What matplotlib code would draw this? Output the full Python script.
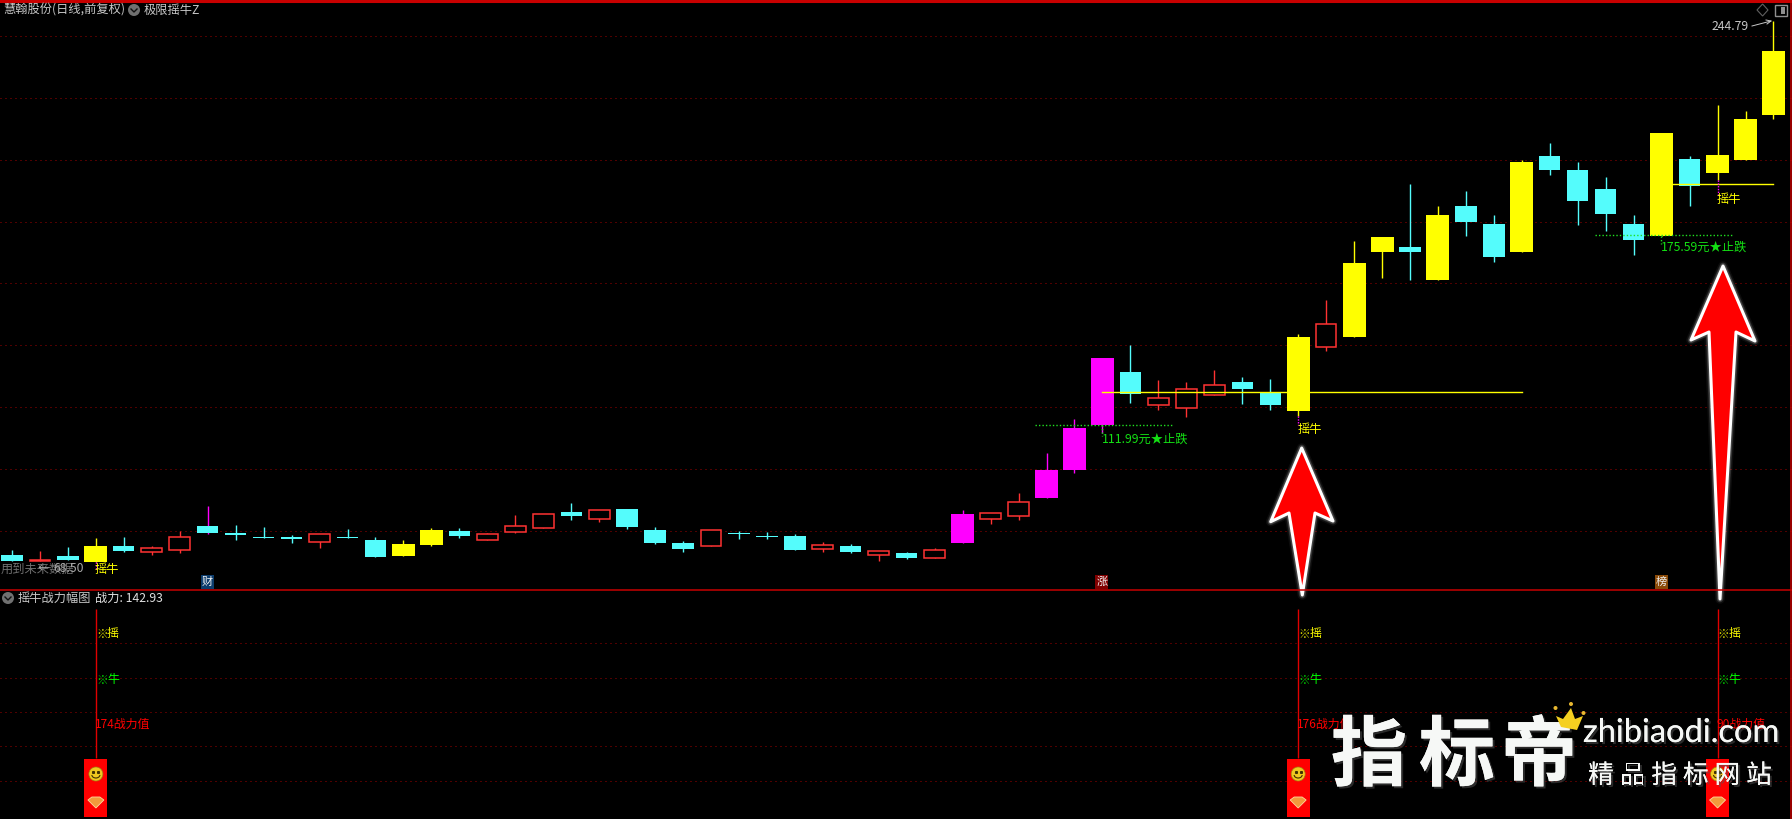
import matplotlib
matplotlib.use('Agg')
import matplotlib.pyplot as plt
import matplotlib.patheffects as pe
from matplotlib.patches import Polygon, Circle, Arc, Rectangle

plt.rcParams['font.family'] = ['Noto Sans CJK SC', 'DejaVu Sans']

# Свечи: r - красная пустая, c - голубая, y - жёлтая, m - малиновая
kinds = list('crcycrr' 'cccc' 'r' 'cc' 'yy' 'c' 'rrr' 'c' 'r' 'ccc' 'r' 'ccc' 'r' 'crcr' 'm' 'rr' 'mmm' 'c' 'rrr' 'cc' 'y' 'r' 'yy' 'c' 'y' 'cc' 'y' 'cccc' 'y' 'c' 'yyy')
body_top = [70.09, 68.44, 69.76, 73.06, 73.06, 72.29, 75.92, 79.66, 77.35, 76.03, 76.03, 76.91, 76.03, 75.04, 73.72, 78.34,
            78.01, 76.91, 79.55, 83.51, 84.28, 84.83, 85.27, 78.34, 74.05, 78.23, 77.35, 76.36, 76.36, 73.28, 73.06, 71.30,
            70.75, 71.63, 83.62, 83.84, 87.47, 98.3, 112.0, 135.1, 130.48, 121.79, 124.76, 126.08, 127.18, 123.55, 142.03, 146.21,
            166.45, 175.03, 171.73, 182.29, 185.26, 179.32, 199.78, 201.76, 197.14, 190.87, 179.32, 209.35, 200.77, 202.09, 213.97, 236.41]
body_bot = [68.11, 68.11, 68.44, 67.89, 71.41, 71.19, 71.85, 77.35, 76.69, 75.70, 75.37, 74.49, 75.70, 69.43, 69.76, 73.39,
            76.36, 75.15, 77.79, 79.11, 82.96, 82.08, 79.33, 74.05, 72.07, 73.17, 77.02, 76.03, 71.74, 72.18, 71.08, 70.20,
            69.10, 69.21, 74.05, 82.08, 83.07, 89.0, 98.05, 113.0, 123.33, 119.70, 118.71, 123.00, 124.87, 119.59, 117.61, 138.84,
            142.0, 170.08, 170.08, 160.9, 179.98, 168.43, 170.08, 197.14, 186.91, 182.62, 174.04, 175.36, 191.86, 196.15, 200.44, 215.29]
highs = [71.74, 71.41, 72.62, 75.59, 76.03, 73.06, 78.01, 86.26, 79.99, 79.33, 76.69, 76.91, 78.67, 76.03, 75.04, 79.00,
         79.00, 77.35, 83.29, 83.51, 87.25, 84.83, 85.27, 79.33, 74.71, 78.23, 78.01, 77.68, 77.02, 74.38, 73.72, 71.30,
         71.08, 72.29, 84.94, 83.84, 90.55, 103.9, 114.97, 135.1, 139.39, 127.84, 127.18, 131.14, 128.83, 128.17, 143.02, 154.1,
         173.71, 175.03, 192.52, 185.26, 190.21, 182.29, 200.44, 206.05, 199.78, 194.83, 182.29, 209.35, 201.76, 218.59, 216.61, 246.31]
lows = [68.11, 68.11, 68.44, 67.89, 71.08, 70.09, 70.75, 77.02, 75.04, 75.70, 74.05, 72.40, 75.70, 69.43, 69.76, 73.06,
        75.70, 75.15, 77.35, 79.11, 81.64, 80.98, 78.67, 73.72, 71.08, 73.17, 75.37, 75.37, 71.74, 71.08, 70.75, 68.11,
        68.77, 69.21, 74.05, 80.32, 81.64, 88.9, 97.2, 110.24, 120.25, 117.94, 115.63, 123.00, 119.92, 117.94, 115.96, 137.41,
        142.0, 161.6, 160.9, 160.9, 175.36, 166.78, 170.08, 195.49, 178.99, 177.01, 169.09, 175.36, 185.26, 193.84, 200.44, 213.97]

grid_prices = [241.2, 220.8, 200.4, 180.1, 159.7, 139.4, 118.9, 98.6, 78.0]
support_lines = [(36.6, 41.5, 112.9), (56.6, 61.5, 175.6)]
signal_idx = [3, 46, 61]
signal_power = ['174', '176', '90']
hold_lines = [(39, 54, 123.8), (59, 63, 192.4)]

# Нижняя панель
power_grid = [175.7, 140.7, 106.7, 72.7, 37.7]

BG = '#000000'
RED = '#c80000'
colors = {'r': '#ff3232', 'c': '#54fcfc', 'y': '#ffff00', 'm': '#ff00ff'}
x0, step = 12, 27.96


def px(i):
    return x0 + i * step


fig = plt.figure(figsize=(17.92, 8.19), dpi=100, facecolor=BG)
# Верхняя панель: y = 0..589 пикселей
ax = fig.add_axes([0, 1 - 589 / 819, 1, 589 / 819], facecolor=BG)
ax.set_xlim(-x0 / step, (1792 - x0) / step)
ax.set_ylim(58.87, 253.24)
ax.axis('off')
# Нижняя панель
ax2 = fig.add_axes([0, 0, 1, 229 / 819], facecolor=BG)
ax2.set_xlim(ax.get_xlim())
ax2.set_ylim(0, 229)
ax2.axis('off')
# Слой для подписей в пикселях
ov = fig.add_axes([0, 0, 1, 1], facecolor='none', zorder=5)
ov.set_xlim(0, 1792)
ov.set_ylim(819, 0)
ov.axis('off')

# Сетка
dots = (0, (1, 4))
for g in grid_prices:
    ax.axhline(g, color='#a00000', lw=0.72, ls=dots, zorder=1)
for g in power_grid:
    ax2.axhline(g, color='#a00000', lw=0.72, ls=dots, zorder=1)

# Свечи
for i, k in enumerate(kinds):
    c = colors[k]
    wick = colors['m'] if i == 7 else c
    ax.vlines(i, lows[i], highs[i], color=wick, lw=1.0, zorder=2)
    h = body_top[i] - body_bot[i]
    if k == 'r':
        ax.bar(i, h, 0.74, bottom=body_bot[i], facecolor=BG, edgecolor=c, lw=1.1, zorder=3)
    elif k == 'c':
        ax.bar(i, h, 0.76, bottom=body_bot[i], color=c, lw=0, zorder=3)
    elif k == 'm':
        ax.bar(i, h, 0.82, bottom=body_bot[i], color=c, lw=0, zorder=3)
    else:
        ax.bar(i, h, 0.82, bottom=body_bot[i], color=c, lw=0, zorder=5)

for a, b, p in hold_lines:
    ax.plot([a, b], [p, p], color='#ffff00', lw=1.0, zorder=4)
for a, b, p in support_lines:
    ax.plot([a, b], [p, p], color='#20e020', lw=1.0, ls=(0, (1, 1.5)), zorder=6)

# Сигналы в нижней панели
for i, s in zip(signal_idx, signal_power):
    ax2.vlines(i, 61, 210, color='#e00000', lw=1.0, zorder=2)
    ax2.bar(i, 58, 0.82, bottom=2.5, color='#ff0000', lw=0, zorder=3)
    xp = px(i)
    ov.text(xp, 634, '※', color='#d8d800', fontsize=8.6, va='center', ha='left')
    ov.text(xp + 11, 634, '摇', color='#ffff00', fontsize=8.6, va='center', ha='left')
    ov.text(xp, 680, '※', color='#00d000', fontsize=8.6, va='center', ha='left')
    ov.text(xp + 11, 680, '牛', color='#00ff00', fontsize=8.6, va='center', ha='left')
    ov.text(xp - 1, 724, s + '战力值', color='#ff0000', fontsize=8.6, va='center', ha='left')
    # смайлик
    ov.add_patch(Circle((xp, 774), 7, fc='#f0c820', ec='#a08010', lw=0.5))
    ov.plot([xp - 2.5, xp + 2.5], [771.5, 771.5], ls='none', marker='s', ms=1.2, color='#403000')
    ov.add_patch(Arc((xp, 775), 8, 6, theta1=0, theta2=180, color='#403000', lw=0.8))
    # алмаз
    ov.add_patch(Polygon([(xp - 8, 800), (xp - 4, 797), (xp + 4, 797), (xp + 8, 800), (xp, 808)], fc='#f29a3c', ec='#ffd9a0', lw=0.6))

# Заголовки
GREY = '#c8c8c8'
ov.add_line(plt.Line2D([0, 1792], [1, 1], color=RED, lw=2.2))
ov.add_line(plt.Line2D([0, 1792], [589.5, 589.5], color=RED, lw=1.1))
ov.add_line(plt.Line2D([1790.5, 1790.5], [0, 819], color=RED, lw=1.1))
ov.text(3, 10, '慧翰股份(日线,前复权)', color=GREY, fontsize=8.8, va='center', ha='left')
ov.text(144, 10, '极限摇牛Z', color=GREY, fontsize=8.8, va='center', ha='left')
ov.text(18, 598, '摇牛战力幅图', color=GREY, fontsize=8.8, va='center', ha='left')
ov.text(95, 598, '战力: 142.93', color='#e0e0e0', fontsize=8.8, va='center', ha='left')
for cx, cy in [(134, 10), (8, 598)]:
    ov.add_patch(Circle((cx, cy), 6, fc='#707070', ec='none'))
    ov.plot([cx - 3, cx, cx + 3], [cy - 1, cy + 2, cy - 1], color='#101010', lw=1)

# Значки справа сверху
ov.add_patch(Polygon([(1762.6, 4), (1768, 10), (1762.6, 16), (1757, 10)], fc='none', ec='#606060', lw=0.8))
ov.add_patch(Rectangle((1775, 5), 12, 11, fc='none', ec='#909090', lw=1))
ov.add_patch(Rectangle((1781, 7), 4, 7, fc='#909090', ec='none'))

# Макс. и мин.
ov.text(1712, 27, '244.79', color=GREY, fontsize=8.8, va='center', ha='left')
ov.plot([1752, 1771], [26, 21], color=GREY, lw=0.7)
ov.plot([1766, 1771, 1767], [20, 21, 24], color=GREY, lw=0.7)
ov.text(1, 569, '用到未来数据', color='#707070', fontsize=8.8, va='center', ha='left')
ov.text(38, 568, '←', color='#a8a8a8', fontsize=8.8, va='center', ha='left')
ov.text(53, 568, '68.50', color='#a8a8a8', fontsize=8.8, va='center', ha='left')

# Подписи сигналов
for xp, y1, y2, yt in [(px(3), 562, 570, 570), (px(46), 416, 425, 429), (px(61), 180, 195, 199)]:
    ov.plot([xp, xp], [y1, y2], color='#ff00ff', lw=1, ls=(0, (1, 1)))
    ov.text(xp - 1, yt, '摇牛', color='#ffff00', fontsize=8.8, va='center', ha='left')

ov.text(1102, 439, '111.99元★止跌', color='#14e014', fontsize=8.8, va='center', ha='left')
ov.text(1661, 247, '175.59元★止跌', color='#14e014', fontsize=8.8, va='center', ha='left')
for xp, y1, y2 in [(1102, 425, 436), (1661, 236, 244)]:
    ov.plot([xp, xp], [y1, y2], color='#20e020', lw=1, ls=(0, (1, 1.5)))

# Значки внизу верхней панели
for xp, ch, bg in [(px(7), '财', '#0c3c6c'), (px(39), '涨', '#800000'), (px(59), '榜', '#8a4a08')]:
    ov.add_patch(Rectangle((xp - 7, 574.5), 13, 14, fc=bg, ec='none'))
    ov.text(xp - 0.5, 581.5, ch, color='#f0f0f0', fontsize=8, va='center', ha='center')

# Красные стрелки
arrows = [[(1301.7, 448), (1270.7, 521.7), (1289, 513), (1302.3, 595), (1315, 513), (1333, 521)],
          [(1723, 266), (1691, 340), (1709, 332), (1720, 599), (1736, 332), (1755, 341)]]
for pts in arrows:
    for lw, al in [(7, 0.05), (5, 0.1), (4, 0.15)]:
        ov.add_patch(Polygon(pts, fc='none', ec='white', lw=lw, alpha=al, joinstyle='round'))
    ov.add_patch(Polygon(pts, fc='#ff0000', ec='white', lw=2.2, joinstyle='round'))

# Водяной знак
shadow = [pe.withSimplePatchShadow(offset=(1.5, -1.5), shadow_rgbFace='#555555', alpha=0.5), pe.Normal()]
for xp, ch in [(1369, '指'), (1457, '标'), (1539, '帝')]:
    ov.text(xp, 757, ch, color='#f6f8f6', fontsize=55, fontweight='bold', va='center', ha='center', path_effects=shadow, zorder=8)
ov.add_patch(Polygon([(1556, 716), (1563, 719), (1571, 708), (1575, 719), (1583, 716), (1577, 730), (1561, 727)], fc='#f5d020', ec='none', zorder=9))
for cx, cy in [(1555.5, 708), (1571, 704), (1583.5, 713)]:
    ov.add_patch(Circle((cx, cy), 2, fc='#e8b830', ec='none', zorder=9))
ov.text(1681, 733, 'zhibiaodi.com', color='#f6f8f6', fontsize=23.5, family='Lato', va='center', ha='center', path_effects=shadow, zorder=8)
for n, ch in enumerate('精品指标网站'):
    ov.text(1601 + n * 31.6, 776, ch, color='#f6f8f6', fontsize=18.5, va='center', ha='center', path_effects=shadow, zorder=8)

fig.savefig('out.png', dpi=100, facecolor=BG)
